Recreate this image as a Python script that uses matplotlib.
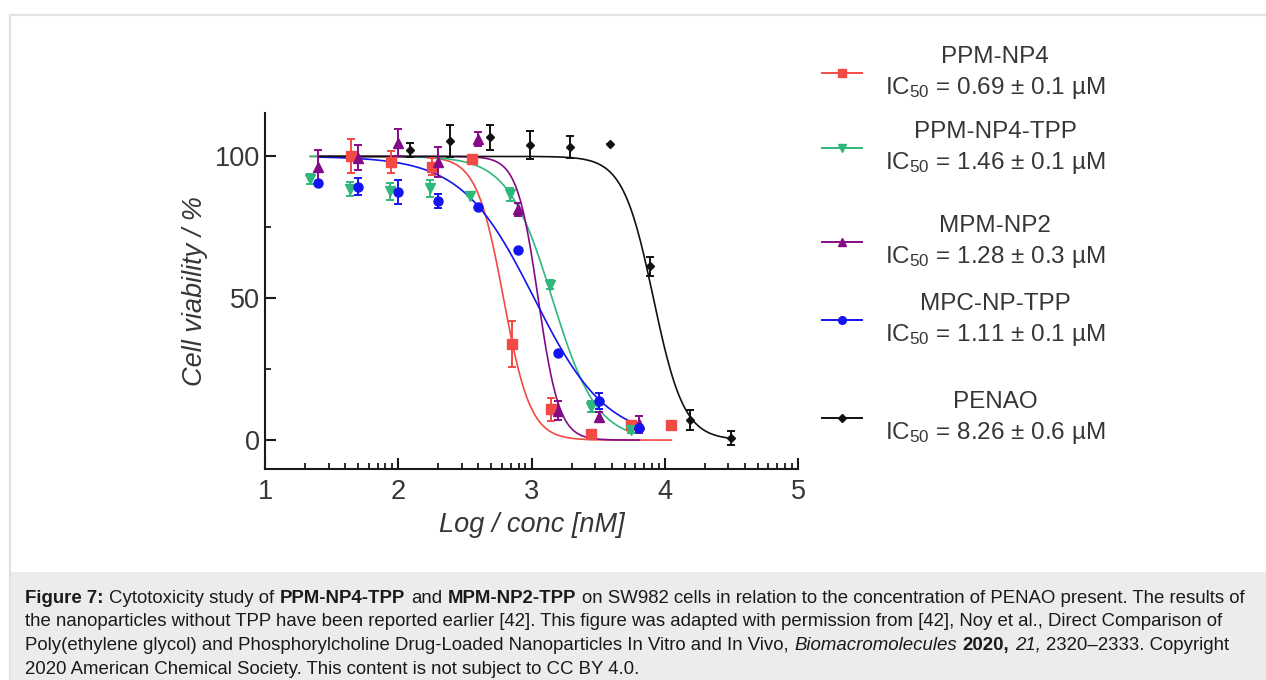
import numpy as np
import matplotlib
matplotlib.use("Agg")
import matplotlib.pyplot as plt
from matplotlib.lines import Line2D
from matplotlib.patches import Rectangle
from matplotlib.ticker import FixedLocator, LogLocator, NullFormatter, FixedFormatter

plt.rcParams['font.family'] = ['Liberation Sans', 'DejaVu Sans']
plt.rcParams['mathtext.fontset'] = 'custom'
plt.rcParams['mathtext.rm'] = 'Liberation Sans'
plt.rcParams['mathtext.it'] = 'Liberation Sans:italic'
plt.rcParams['mathtext.bf'] = 'Liberation Sans:bold'

W, H = 1266, 680

# ---------------- data (x = log10 concentration [nM]) ----------------
series_names = ["PPM-NP4", "PPM-NP4-TPP", "MPM-NP2", "MPC-NP-TPP", "PENAO"]
ic50_labels = ["0.69 \u00b1 0.1 \u00b5M", "1.46 \u00b1 0.1 \u00b5M", "1.28 \u00b1 0.3 \u00b5M",
               "1.11 \u00b1 0.1 \u00b5M", "8.26 \u00b1 0.6 \u00b5M"]

ppm_np4_x = [1.645, 1.945, 2.25, 2.55, 2.85, 3.15, 3.45, 3.75, 4.05]
ppm_np4_y = [100.3, 98.0, 96.3, 99.2, 33.8, 10.8, 2.3, 5.3, 5.3]
ppm_np4_err = [6.0, 4.0, 3.0, 1.0, 8.0, 4.2, 0.8, 1.0, 0.0]

ppm_np4_tpp_x = [1.34, 1.64, 1.94, 2.24, 2.54, 2.84, 3.14, 3.45, 3.75]
ppm_np4_tpp_y = [91.9, 88.6, 87.7, 88.7, 86.0, 86.6, 54.8, 11.8, 3.5]
ppm_np4_tpp_err = [1.8, 2.5, 3.0, 3.0, 0.0, 2.2, 1.5, 2.0, 1.0]

mpm_np2_x = [1.40, 1.70, 2.00, 2.30, 2.60, 2.90, 3.20, 3.51, 3.81]
mpm_np2_y = [96.3, 99.5, 104.8, 98.0, 106.0, 81.3, 10.4, 8.0, 5.6]
mpm_np2_err = [6.0, 4.4, 4.7, 5.3, 2.5, 2.2, 3.2, 1.8, 3.0]

mpc_np_tpp_x = [1.40, 1.70, 2.00, 2.30, 2.60, 2.90, 3.20, 3.51, 3.81]
mpc_np_tpp_y = [90.7, 89.3, 87.4, 84.2, 82.1, 67.1, 30.6, 13.8, 4.1]
mpc_np_tpp_err = [0.0, 3.0, 4.2, 2.5, 0.0, 0.0, 0.0, 2.7, 1.0]

penao_x = [2.09, 2.39, 2.69, 2.99, 3.29, 3.59, 3.89, 4.19, 4.50]
penao_y = [102.2, 105.4, 106.8, 103.9, 103.3, 104.2, 61.2, 7.1, 0.8]
penao_err = [2.4, 5.7, 4.4, 4.9, 4.0, 0.0, 3.2, 3.6, 2.4]

# fitted dose-response parameters: top, bottom, logIC50, Hill slope, fit range
fit_top = [100, 100, 100, 100, 100]
fit_bottom = [0, 0, 0, 0, 0]
fit_logic50 = [2.79, 3.155, 3.05, 3.02, 3.915]
fit_hill = [4.3, 2.6, 5.5, 1.6, 3.8]
fit_start = [1.34, 1.34, 1.40, 1.40, 1.40]
fit_end = [4.05, 3.75, 3.81, 3.81, 4.50]

colors = ["#f24a45", "#2fb87c", "#850a87", "#1414f0", "#111111"]
markers = ["s", "v", "^", "o", "D"]
msizes = [6.5, 7, 7, 6.5, 4.5]

xs = [ppm_np4_x, ppm_np4_tpp_x, mpm_np2_x, mpc_np_tpp_x, penao_x]
ys = [ppm_np4_y, ppm_np4_tpp_y, mpm_np2_y, mpc_np_tpp_y, penao_y]
errs = [ppm_np4_err, ppm_np4_tpp_err, mpm_np2_err, mpc_np_tpp_err, penao_err]

# ---------------- figure ----------------
fig = plt.figure(figsize=(W / 100, H / 100), dpi=100)
fig.patch.set_facecolor("white")

def fx(px):
    return px / W

def fy(py):
    return 1 - py / H

# frame and caption background
fig.add_artist(Rectangle((fx(10), 0), 1 - fx(10), fy(572), transform=fig.transFigure,
                         facecolor="#ececec", edgecolor="none", zorder=0))
fig.add_artist(Line2D([fx(10), 1], [fy(15), fy(15)], transform=fig.transFigure,
                      color="#e2e2e2", lw=1.6, zorder=1))
fig.add_artist(Line2D([fx(10), fx(10)], [fy(15), 0], transform=fig.transFigure,
                      color="#e2e2e2", lw=1.6, zorder=1))

ax = fig.add_axes([fx(265), fy(469), (798 - 265) / W, (469 - 113) / H])
ax.set_facecolor("none")


def hill(x, top, bottom, x50, h):
    return bottom + (top - bottom) / (1 + 10 ** ((x - x50) * h))

draw_order = [4, 3, 1, 2, 0]
for i in draw_order:
    xc = np.linspace(fit_start[i], fit_end[i], 400)
    yc = hill(xc, fit_top[i], fit_bottom[i], fit_logic50[i], fit_hill[i])
    ax.plot(10 ** xc, yc, color=colors[i], lw=1.2, zorder=2 + i * 0.1)
for i in draw_order:
    xd = 10 ** np.array(xs[i])
    ax.errorbar(xd, ys[i], yerr=errs[i], fmt=markers[i], color=colors[i],
                ms=msizes[i], mec=colors[i], elinewidth=1.4, capsize=3.2,
                capthick=1.4, zorder=4 + i * 0.1)

ax.set_xscale("log")
ax.set_xlim(10, 1e5)
ax.set_ylim(-10.2, 115.3)

for s in ["top", "right"]:
    ax.spines[s].set_visible(False)
for s in ["left", "bottom"]:
    ax.spines[s].set_linewidth(1.5)
    ax.spines[s].set_color("#1a1a1a")

xtick_labels = ["1", "2", "3", "4", "5"]
ax.xaxis.set_major_locator(FixedLocator([10, 100, 1000, 1e4, 1e5]))
ax.xaxis.set_major_formatter(FixedFormatter(xtick_labels))
ax.xaxis.set_minor_locator(LogLocator(base=10, subs=np.arange(2, 10)))
ax.xaxis.set_minor_formatter(NullFormatter())
ax.yaxis.set_major_locator(FixedLocator([0, 50, 100]))
ax.yaxis.set_minor_locator(FixedLocator([25, 75]))

ax.tick_params(which="major", direction="in", length=8, width=1.5, color="#1a1a1a",
               labelsize=19.5, labelcolor="#363636")
ax.tick_params(which="minor", direction="in", length=4.5, width=1.3, color="#1a1a1a")
ax.tick_params(axis="y", which="major", pad=3.5)
ax.tick_params(axis="x", which="major", pad=7.5)

ax.set_xlabel("Log / conc [nM]", fontsize=19.5, fontstyle="italic", color="#363636",
              labelpad=5)
ax.set_ylabel("Cell viability / %", fontsize=19.5, fontstyle="italic", color="#363636",
              labelpad=5)

# ---------------- legend ----------------
leg_handle_y = [73, 148, 242, 320, 418]
for i in range(5):
    yy = fy(leg_handle_y[i])
    fig.add_artist(Line2D([fx(822), fx(862)], [yy, yy], transform=fig.transFigure,
                          color=colors[i], lw=1.4))
    fig.add_artist(Line2D([fx(842)], [yy], transform=fig.transFigure, color=colors[i],
                          marker=markers[i], ms=msizes[i] * 0.85, mec=colors[i], lw=0))
    fig.text(fx(995), fy(leg_handle_y[i] - 16), series_names[i], ha="center", va="center",
             fontsize=17.5, color="#363636")
    fig.text(fx(995), fy(leg_handle_y[i] + 15), "IC$_{50}$ = " + ic50_labels[i],
             ha="center", va="center", fontsize=17.5, color="#363636")

# ---------------- caption ----------------
caption_lines = [
    [("Figure 7:", "b"), (" Cytotoxicity study of ", "n"), ("PPM-NP4-TPP", "b"), (" and ", "n"),
     ("MPM-NP2-TPP", "b"),
     (" on SW982 cells in relation to the concentration of PENAO present. The results of", "n")],
    [("the nanoparticles without TPP have been reported earlier [42]. This figure was adapted "
      "with permission from [42], Noy et al., Direct Comparison of", "n")],
    [("Poly(ethylene glycol) and Phosphorylcholine Drug-Loaded Nanoparticles In Vitro and In "
      "Vivo, ", "n"), ("Biomacromolecules", "i"), (" ", "n"), ("2020,", "b"), (" ", "n"),
     ("21,", "i"), (" 2320\u20132333. Copyright", "n")],
    [("2020 American Chemical Society. This content is not subject to CC BY 4.0.", "n")],
]
caption_baselines = [603, 626.5, 650, 673.5]
cap_size = 13.4

renderer = fig.canvas.get_renderer()


def text_width(s, **kw):
    t = fig.text(0, 0, s, fontsize=cap_size, **kw)
    w = t.get_window_extent(renderer).width
    t.remove()
    return w

sp = text_width("a a") - text_width("aa")


def style_kw(st):
    if st == "b":
        return {"fontweight": "bold"}
    if st == "i":
        return {"fontstyle": "italic"}
    return {}

for line, base in zip(caption_lines, caption_baselines):
    x = 25.0
    for txt, st in line:
        core = txt.strip(" ")
        if not core:
            x += len(txt) * sp
            continue
        lead = len(txt) - len(txt.lstrip(" "))
        trail = len(txt) - len(txt.rstrip(" "))
        x += lead * sp
        t = fig.text(fx(x), fy(base), core, fontsize=cap_size, color="#1a1a1a",
                     ha="left", va="baseline", **style_kw(st))
        bb = t.get_window_extent(renderer)
        x = bb.x1 + 0.5
        x += trail * sp

fig.savefig("out.png", dpi=100, facecolor="white")
